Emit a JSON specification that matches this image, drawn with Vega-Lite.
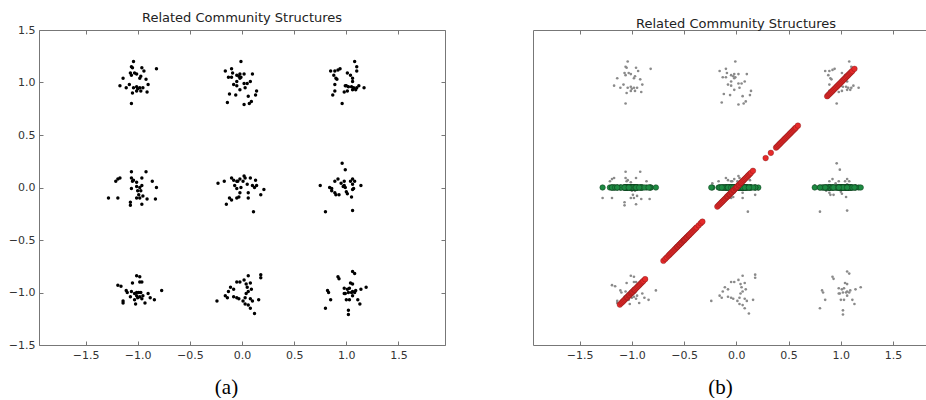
{
  "$schema": "https://vega.github.io/schema/vega-lite/v6.json",
  "background": "white",
  "padding": {"left": 7, "top": 11, "right": 0, "bottom": 0},
  "spacing": 86,
  "datasets": {
    "pts": [
      {"x":-1.04,"y":1.20},{"x":-1.06,"y":1.15},{"x":-1.05,"y":1.14},{"x":-0.96,"y":1.14},{"x":-0.94,"y":1.11},{"x":-0.82,"y":1.13},{"x":-1.07,"y":1.09},{"x":-1.06,"y":1.07},{"x":-1.03,"y":1.09},{"x":-1.01,"y":1.08},{"x":-0.98,"y":1.04},{"x":-0.97,"y":1.06},{"x":-1.14,"y":1.04},{"x":-1.17,"y":0.97},{"x":-1.11,"y":0.95},{"x":-1.08,"y":0.98},{"x":-1.04,"y":0.95},{"x":-1.01,"y":0.96},{"x":-1.00,"y":0.94},{"x":-0.98,"y":0.95},{"x":-0.95,"y":0.95},{"x":-1.01,"y":0.92},{"x":-0.97,"y":0.92},{"x":-0.90,"y":0.98},{"x":-0.91,"y":0.91},{"x":-1.05,"y":0.90},{"x":-1.06,"y":0.80},{"x":-0.92,"y":1.03},
      {"x":-0.01,"y":1.20},{"x":-0.16,"y":1.11},{"x":-0.10,"y":1.13},{"x":-0.09,"y":1.09},{"x":-0.13,"y":1.05},{"x":-0.10,"y":1.05},{"x":-0.05,"y":1.07},{"x":-0.03,"y":1.06},{"x":-0.02,"y":1.04},{"x":-0.02,"y":1.08},{"x":0.02,"y":1.08},{"x":0.10,"y":1.08},{"x":-0.08,"y":0.98},{"x":-0.05,"y":0.97},{"x":0.02,"y":0.99},{"x":0.05,"y":0.99},{"x":0.08,"y":1.01},{"x":-0.02,"y":0.93},{"x":0.03,"y":0.95},{"x":-0.06,"y":0.88},{"x":0.06,"y":0.87},{"x":0.14,"y":0.92},{"x":0.13,"y":0.88},{"x":-0.12,"y":0.89},{"x":-0.14,"y":0.81},{"x":0.02,"y":0.79},{"x":0.07,"y":0.80},{"x":0.09,"y":0.82},{"x":-0.01,"y":1.05},{"x":-0.05,"y":1.01},
      {"x":1.08,"y":1.20},{"x":1.10,"y":1.15},{"x":1.10,"y":1.11},{"x":0.85,"y":1.11},{"x":0.89,"y":1.11},{"x":0.92,"y":1.12},{"x":0.94,"y":1.13},{"x":0.88,"y":1.07},{"x":0.90,"y":1.04},{"x":0.91,"y":1.03},{"x":0.89,"y":0.98},{"x":1.01,"y":1.09},{"x":1.04,"y":1.07},{"x":1.06,"y":1.04},{"x":1.06,"y":1.01},{"x":0.99,"y":0.97},{"x":1.02,"y":0.96},{"x":1.05,"y":0.96},{"x":1.07,"y":0.95},{"x":1.10,"y":0.95},{"x":1.12,"y":0.97},{"x":1.17,"y":0.95},{"x":0.98,"y":0.91},{"x":1.01,"y":0.92},{"x":1.06,"y":0.93},{"x":1.09,"y":0.93},{"x":0.89,"y":0.92},{"x":0.87,"y":0.88},{"x":0.96,"y":0.80},{"x":1.00,"y":0.97},
      {"x":-1.19,"y":0.08},{"x":-1.17,"y":0.09},{"x":-1.21,"y":0.06},{"x":-1.06,"y":0.15},{"x":-1.06,"y":0.09},{"x":-1.04,"y":0.07},{"x":-1.05,"y":0.06},{"x":-1.01,"y":0.05},{"x":-0.96,"y":0.09},{"x":-0.92,"y":0.15},{"x":-0.86,"y":0.06},{"x":-0.82,"y":0.00},{"x":-1.06,"y":-0.01},{"x":-1.01,"y":0.01},{"x":-0.98,"y":0.00},{"x":-0.96,"y":0.02},{"x":-0.97,"y":-0.03},{"x":-0.99,"y":-0.07},{"x":-0.98,"y":-0.10},{"x":-0.95,"y":-0.08},{"x":-1.01,"y":-0.10},{"x":-1.07,"y":-0.14},{"x":-1.07,"y":-0.17},{"x":-0.96,"y":-0.16},{"x":-0.91,"y":-0.11},{"x":-0.83,"y":-0.11},{"x":-1.28,"y":-0.10},{"x":-1.19,"y":-0.10},{"x":-1.00,"y":-0.03},
      {"x":-0.23,"y":0.04},{"x":-0.17,"y":0.06},{"x":-0.10,"y":0.09},{"x":-0.08,"y":0.07},{"x":-0.05,"y":0.06},{"x":-0.04,"y":0.06},{"x":-0.02,"y":0.08},{"x":0.02,"y":0.11},{"x":0.03,"y":0.09},{"x":0.01,"y":0.06},{"x":0.08,"y":0.09},{"x":0.13,"y":0.07},{"x":0.05,"y":0.03},{"x":0.10,"y":0.02},{"x":0.12,"y":0.00},{"x":0.14,"y":0.02},{"x":0.21,"y":-0.02},{"x":-0.05,"y":-0.01},{"x":-0.01,"y":0.00},{"x":-0.02,"y":-0.05},{"x":0.06,"y":-0.05},{"x":0.18,"y":-0.07},{"x":-0.12,"y":-0.10},{"x":-0.10,"y":-0.12},{"x":-0.05,"y":-0.10},{"x":-0.03,"y":-0.09},{"x":0.06,"y":-0.10},{"x":-0.15,"y":-0.16},{"x":0.11,"y":-0.23},{"x":-0.07,"y":0.02},
      {"x":0.96,"y":0.23},{"x":0.99,"y":0.17},{"x":0.75,"y":0.02},{"x":0.84,"y":0.00},{"x":0.86,"y":-0.01},{"x":0.89,"y":-0.05},{"x":0.90,"y":-0.07},{"x":0.93,"y":-0.07},{"x":0.89,"y":0.06},{"x":0.92,"y":0.08},{"x":0.95,"y":0.04},{"x":0.98,"y":0.02},{"x":0.99,"y":0.00},{"x":0.97,"y":0.01},{"x":1.04,"y":0.06},{"x":1.06,"y":0.08},{"x":1.08,"y":0.06},{"x":1.06,"y":0.03},{"x":1.14,"y":0.02},{"x":1.00,"y":-0.04},{"x":1.06,"y":-0.02},{"x":1.07,"y":-0.01},{"x":1.05,"y":-0.09},{"x":1.01,"y":-0.06},{"x":0.80,"y":-0.23},{"x":1.06,"y":-0.22},{"x":0.86,"y":-0.03},{"x":0.98,"y":0.06},
      {"x":-1.01,"y":-0.84},{"x":-0.98,"y":-0.85},{"x":-0.98,"y":-0.90},{"x":-0.96,"y":-0.90},{"x":-1.05,"y":-0.91},{"x":-1.19,"y":-0.93},{"x":-1.16,"y":-0.94},{"x":-1.11,"y":-0.98},{"x":-1.10,"y":-1.00},{"x":-1.06,"y":-0.99},{"x":-1.03,"y":-1.01},{"x":-1.01,"y":-1.00},{"x":-0.99,"y":-1.00},{"x":-0.97,"y":-1.00},{"x":-1.01,"y":-1.03},{"x":-0.98,"y":-1.04},{"x":-0.95,"y":-1.03},{"x":-1.00,"y":-1.05},{"x":-0.96,"y":-1.06},{"x":-0.90,"y":-1.01},{"x":-0.88,"y":-1.05},{"x":-0.84,"y":-1.07},{"x":-0.77,"y":-0.98},{"x":-0.93,"y":-1.10},{"x":-1.02,"y":-1.11},{"x":-1.14,"y":-1.08},{"x":-1.14,"y":-1.10},{"x":-1.07,"y":-1.04},{"x":-1.03,"y":-1.07},
      {"x":0.06,"y":-0.84},{"x":0.18,"y":-0.83},{"x":0.18,"y":-0.86},{"x":-0.05,"y":-0.90},{"x":-0.02,"y":-0.90},{"x":0.02,"y":-0.88},{"x":0.04,"y":-0.92},{"x":0.08,"y":-0.91},{"x":-0.11,"y":-0.95},{"x":-0.13,"y":-0.99},{"x":-0.08,"y":-0.97},{"x":0.05,"y":-0.95},{"x":0.06,"y":-0.99},{"x":0.09,"y":-0.97},{"x":0.04,"y":-1.01},{"x":-0.16,"y":-1.03},{"x":-0.14,"y":-1.05},{"x":-0.08,"y":-1.04},{"x":-0.05,"y":-1.05},{"x":-0.03,"y":-1.06},{"x":0.03,"y":-1.05},{"x":0.08,"y":-1.06},{"x":0.10,"y":-1.08},{"x":0.16,"y":-1.07},{"x":0.03,"y":-1.11},{"x":0.06,"y":-1.12},{"x":0.08,"y":-1.15},{"x":0.12,"y":-1.20},{"x":-0.24,"y":-1.08},{"x":0.01,"y":-1.08},
      {"x":1.06,"y":-0.80},{"x":1.08,"y":-0.82},{"x":0.92,"y":-0.85},{"x":0.93,"y":-0.87},{"x":1.04,"y":-0.91},{"x":1.06,"y":-0.92},{"x":0.98,"y":-0.96},{"x":1.01,"y":-0.97},{"x":1.03,"y":-0.96},{"x":1.06,"y":-0.99},{"x":1.09,"y":-0.98},{"x":1.19,"y":-0.95},{"x":1.14,"y":-0.97},{"x":0.82,"y":-0.98},{"x":0.83,"y":-1.00},{"x":0.99,"y":-1.01},{"x":1.02,"y":-1.00},{"x":1.05,"y":-1.00},{"x":1.08,"y":-1.00},{"x":1.11,"y":-1.07},{"x":1.13,"y":-1.11},{"x":1.00,"y":-1.07},{"x":1.03,"y":-1.07},{"x":0.85,"y":-1.07},{"x":0.80,"y":-1.15},{"x":1.02,"y":-1.17},{"x":1.02,"y":-1.21},{"x":0.98,"y":-1.01},{"x":1.06,"y":-1.03}
    ],
    "red": [
      {"t":-1.115},{"t":-1.10},{"t":-1.09},{"t":-1.08},{"t":-1.07},{"t":-1.06},{"t":-1.05},{"t":-1.045},{"t":-1.04},{"t":-1.03},{"t":-1.025},{"t":-1.02},{"t":-1.01},{"t":-1.005},{"t":-1.0},{"t":-0.995},{"t":-0.99},{"t":-0.98},{"t":-0.975},{"t":-0.97},{"t":-0.96},{"t":-0.95},{"t":-0.94},{"t":-0.93},{"t":-0.92},{"t":-0.91},{"t":-0.90},{"t":-0.89},{"t":-0.873},
      {"t":-0.698},{"t":-0.68},{"t":-0.665},{"t":-0.65},{"t":-0.64},{"t":-0.63},{"t":-0.62},{"t":-0.61},{"t":-0.60},{"t":-0.59},{"t":-0.58},{"t":-0.57},{"t":-0.565},{"t":-0.56},{"t":-0.55},{"t":-0.545},{"t":-0.54},{"t":-0.53},{"t":-0.525},{"t":-0.52},{"t":-0.51},{"t":-0.505},{"t":-0.50},{"t":-0.495},{"t":-0.49},{"t":-0.48},{"t":-0.475},{"t":-0.47},{"t":-0.46},{"t":-0.455},{"t":-0.45},{"t":-0.44},{"t":-0.43},{"t":-0.42},{"t":-0.41},{"t":-0.40},{"t":-0.39},{"t":-0.38},{"t":-0.36},{"t":-0.34},{"t":-0.325},
      {"t":-0.182},{"t":-0.17},{"t":-0.16},{"t":-0.15},{"t":-0.14},{"t":-0.13},{"t":-0.12},{"t":-0.11},{"t":-0.10},{"t":-0.09},{"t":-0.085},{"t":-0.08},{"t":-0.07},{"t":-0.065},{"t":-0.06},{"t":-0.05},{"t":-0.045},{"t":-0.04},{"t":-0.03},{"t":-0.025},{"t":-0.02},{"t":-0.01},{"t":-0.005},{"t":0.0},{"t":0.005},{"t":0.01},{"t":0.02},{"t":0.025},{"t":0.03},{"t":0.04},{"t":0.045},{"t":0.05},{"t":0.06},{"t":0.07},{"t":0.08},{"t":0.09},{"t":0.10},{"t":0.11},{"t":0.12},{"t":0.13},{"t":0.14},{"t":0.159},
      {"t":0.28},{"t":0.33},{"t":0.38},{"t":0.39},{"t":0.40},{"t":0.41},{"t":0.42},{"t":0.43},{"t":0.44},{"t":0.45},{"t":0.46},{"t":0.47},{"t":0.48},{"t":0.49},{"t":0.50},{"t":0.51},{"t":0.52},{"t":0.53},{"t":0.54},{"t":0.55},{"t":0.56},{"t":0.57},{"t":0.589},
      {"t":0.869},{"t":0.88},{"t":0.89},{"t":0.90},{"t":0.91},{"t":0.92},{"t":0.93},{"t":0.94},{"t":0.95},{"t":0.96},{"t":0.97},{"t":0.98},{"t":0.99},{"t":1.0},{"t":1.01},{"t":1.02},{"t":1.03},{"t":1.04},{"t":1.05},{"t":1.06},{"t":1.07},{"t":1.08},{"t":1.09},{"t":1.10},{"t":1.11},{"t":1.13}
    ]
  },
  "hconcat": [
    {
      "width": 406,
      "height": 315,
      "title": {"text": "Related Community Structures", "anchor": "middle", "offset": -1},
      "data": {"name": "pts"},
      "layer": [
        {
          "mark": {"type": "circle", "size": 12, "color": "#000000", "opacity": 1},
          "encoding": {
            "x": {"field": "x", "type": "quantitative", "scale": {"domain": [-1.946, 1.946], "nice": false, "zero": false},
                  "axis": {"values": [-1.5, -1, -0.5, 0, 0.5, 1, 1.5], "format": ".1f", "title": "(a)", "titleFont": "Liberation Serif", "titleFontSize": 21, "titleFontWeight": "normal", "titleColor": "#000000", "titleX": 187, "titleY": 42, "titleBaseline": "middle", "titleAnchor": "middle"}},
            "y": {"field": "y", "type": "quantitative", "scale": {"domain": [-1.5, 1.5], "nice": false, "zero": false},
                  "axis": {"values": [-1.5, -1, -0.5, 0, 0.5, 1, 1.5], "format": ".1f", "title": null}}
          }
        },
        {
          "mark": {"type": "circle", "opacity": 0},
          "encoding": {
            "x": {"field": "x", "type": "quantitative", "axis": {"orient": "top", "labels": false, "title": null, "values": [-1.5, -1, -0.5, 0, 0.5, 1, 1.5]}},
            "y": {"field": "y", "type": "quantitative", "axis": {"orient": "right", "labels": false, "title": null, "values": [-1.5, -1, -0.5, 0, 0.5, 1, 1.5]}}
          }
        }
      ],
      "resolve": {"axis": {"x": "independent", "y": "independent"}}
    },
    {
      "width": 397,
      "height": 315,
      "title": {"text": "Related Community Structures", "anchor": "middle", "offset": -1, "dx": 4.5},
      "layer": [
        {
          "data": {"name": "pts"},
          "mark": {"type": "circle", "size": 7, "color": "#8a8a8a", "opacity": 1},
          "encoding": {
            "x": {"field": "x", "type": "quantitative", "scale": {"domain": [-1.946, 1.853], "nice": false, "zero": false},
                  "axis": {"values": [-1.5, -1, -0.5, 0, 0.5, 1, 1.5], "format": ".1f", "title": "(b)", "titleFont": "Liberation Serif", "titleFontSize": 21, "titleFontWeight": "normal", "titleColor": "#000000", "titleX": 187, "titleY": 42, "titleBaseline": "middle", "titleAnchor": "middle"}},
            "y": {"field": "y", "type": "quantitative", "scale": {"domain": [-1.5, 1.5], "nice": false, "zero": false},
                  "axis": {"values": [-1.5, -1, -0.5, 0, 0.5, 1, 1.5], "format": ".1f", "title": null}}
          }
        },
        {
          "data": {"name": "pts"},
          "mark": {"type": "circle", "size": 30, "color": "#1d8a42", "opacity": 1, "stroke": "#0c3a1b", "strokeWidth": 0.5},
          "encoding": {
            "x": {"field": "x", "type": "quantitative", "axis": null},
            "y": {"datum": 0, "type": "quantitative", "axis": null}
          }
        },
        {
          "data": {"name": "red"},
          "mark": {"type": "circle", "size": 32, "color": "#e62a2a", "opacity": 1, "stroke": "#6b1515", "strokeWidth": 0.35},
          "encoding": {
            "x": {"field": "t", "type": "quantitative", "axis": null},
            "y": {"field": "t", "type": "quantitative", "axis": null}
          }
        },
        {
          "data": {"name": "pts"},
          "mark": {"type": "circle", "opacity": 0},
          "encoding": {
            "x": {"field": "x", "type": "quantitative", "axis": {"orient": "top", "labels": false, "title": null, "values": [-1.5, -1, -0.5, 0, 0.5, 1, 1.5]}},
            "y": {"field": "y", "type": "quantitative", "axis": null}
          }
        }
      ],
      "resolve": {"axis": {"x": "independent"}}
    }
  ],
  "config": {
    "view": {"stroke": "#777777", "strokeWidth": 1},
    "axis": {"grid": false, "domain": false, "tickColor": "#777777", "tickSize": -4, "tickWidth": 1, "labelFont": "DejaVu Sans", "labelFontSize": 11, "labelColor": "#333333", "labelPadding": 8, "labelFlush": false, "labelOverlap": false},
    "title": {"font": "DejaVu Sans", "fontSize": 13, "fontWeight": "normal", "color": "#222222"}
  }
}
